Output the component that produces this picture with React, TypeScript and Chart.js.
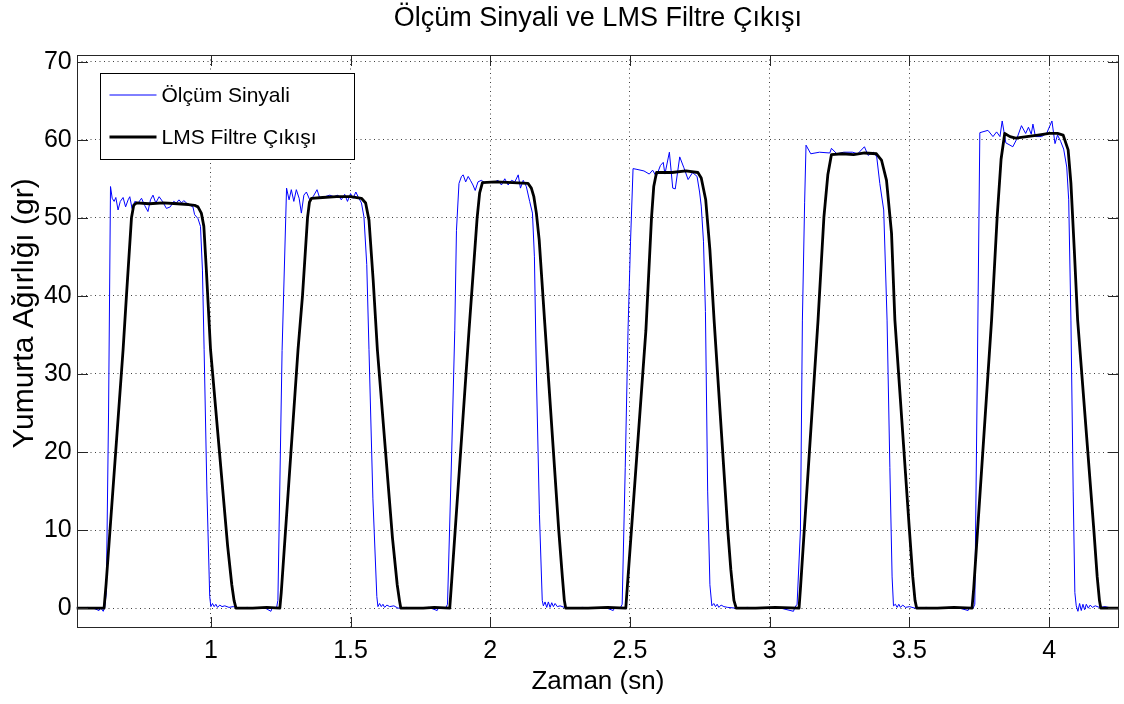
import React, { useEffect, useRef } from 'react';
import { Chart, registerables } from 'chart.js';

Chart.register(...registerables);

const titleText = 'Ölçüm Sinyali ve LMS Filtre Çıkışı';
const xTitle = 'Zaman (sn)';
const yTitle = 'Yumurta Ağırlığı (gr)';
const seriesLabels = ['Ölçüm Sinyali', 'LMS Filtre Çıkışı'];
const xTicks = [1, 1.5, 2, 2.5, 3, 3.5, 4];
const yTicks = [0, 10, 20, 30, 40, 50, 60, 70];

// Ölçüm Sinyali: [time (sn), weight (gr)]
const olcumSignal: [number, number][] = [
  [0.52, 0.1], [0.54, 0.0], [0.56, 0.1], [0.58, 0.0], [0.6, -0.3], [0.605, 0.1], [0.615, -0.4], [0.62, 0.1],
  [0.626, 2], [0.634, 25], [0.641, 54.0], [0.647, 52.5], [0.654, 52.1], [0.66, 52.6], [0.668, 51.0], [0.676, 52.1],
  [0.686, 52.6], [0.695, 51.4], [0.704, 52.3], [0.71, 52.7], [0.718, 51.2], [0.728, 52.1], [0.74, 51.9], [0.752, 52.5],
  [0.763, 51.6], [0.775, 50.8], [0.784, 52.3], [0.793, 52.9], [0.803, 51.9], [0.815, 52.7], [0.827, 52.1], [0.841, 51.2],
  [0.855, 51.4], [0.867, 52.1], [0.877, 51.9], [0.886, 52.3], [0.895, 51.9], [0.903, 52.2], [0.913, 51.9], [0.925, 51.6],
  [0.936, 51.4], [0.942, 50.4], [0.954, 49.9], [0.963, 48.9], [0.97, 43.3], [0.976, 33.1], [0.986, 15], [0.996, 1.5], [1.0, 0.2],
  [1.006, 0.6], [1.012, 0.2], [1.018, 0.5], [1.024, 0.1], [1.032, 0.4], [1.04, 0.2], [1.05, 0.3], [1.065, 0.1], [1.08, 0.2],
  [1.1, 0.0], [1.13, 0.1], [1.16, 0.0], [1.19, 0.1], [1.215, -0.4], [1.22, 0.1], [1.235, 0.0],
  [1.24, 1], [1.255, 33], [1.271, 53.8], [1.28, 52.3], [1.288, 53.6], [1.297, 52.1], [1.306, 53.6], [1.316, 52.5],
  [1.324, 50.6], [1.333, 52.9], [1.342, 53.3], [1.354, 52.3], [1.366, 52.7], [1.38, 53.6], [1.39, 52.5], [1.408, 52.7],
  [1.426, 52.9], [1.44, 52.7], [1.455, 52.9], [1.467, 52.3], [1.479, 53.0], [1.489, 52.1], [1.5, 53.1], [1.509, 52.5],
  [1.519, 53.3], [1.527, 52.7], [1.539, 51.9], [1.548, 50.1], [1.558, 44], [1.566, 33.1], [1.58, 14], [1.594, 1.5], [1.598, 0.2],
  [1.604, 0.6], [1.61, 0.2], [1.616, 0.5], [1.622, 0.1], [1.63, 0.4], [1.64, 0.2], [1.655, 0.3], [1.67, 0.0], [1.7, 0.1],
  [1.74, 0.0], [1.78, 0.1], [1.81, -0.3], [1.815, 0.1], [1.84, 0.0],
  [1.847, 0.5], [1.862, 20], [1.873, 35.6], [1.879, 48.4], [1.888, 54.4], [1.897, 55.3], [1.903, 55.5], [1.912, 54.6],
  [1.921, 55.3], [1.929, 54.8], [1.938, 54.2], [1.946, 53.5], [1.956, 54.6], [1.968, 54.8], [1.98, 54.5], [1.992, 54.6],
  [2.01, 54.5], [2.028, 54.8], [2.04, 54.2], [2.052, 55.0], [2.064, 54.2], [2.076, 54.8], [2.088, 54.6], [2.1, 55.5],
  [2.108, 53.8], [2.118, 54.8], [2.129, 54.0], [2.141, 52.1], [2.151, 50.6], [2.158, 45], [2.165, 30], [2.176, 12], [2.186, 1], [2.19, 0.3],
  [2.196, 0.8], [2.202, 0.1], [2.208, 0.8], [2.214, 0.1], [2.22, 0.7], [2.226, 0.2], [2.232, 0.6], [2.24, 0.2], [2.25, 0.3],
  [2.265, 0.1], [2.29, 0.0], [2.33, 0.1], [2.37, 0.0], [2.41, 0.1], [2.44, -0.3], [2.445, 0.1], [2.465, 0.0],
  [2.472, 0.5], [2.483, 18], [2.493, 35.6], [2.502, 47], [2.511, 56.3], [2.525, 56.2], [2.55, 56.0], [2.569, 55.6],
  [2.581, 56.1], [2.594, 55.3], [2.609, 56.7], [2.619, 57.1], [2.625, 55.6], [2.641, 58.4], [2.653, 53.8], [2.662, 53.7],
  [2.678, 57.8], [2.693, 56.4], [2.708, 54.9], [2.724, 55.8], [2.74, 55.3], [2.749, 53.3], [2.755, 51.5], [2.763, 47],
  [2.77, 38], [2.778, 15], [2.786, 3], [2.793, 0.3],
  [2.8, 0.6], [2.806, 0.2], [2.812, 0.5], [2.818, 0.1], [2.826, 0.4], [2.836, 0.2], [2.85, 0.1], [2.88, 0.0], [2.92, 0.1],
  [2.96, 0.0], [3.0, 0.1], [3.04, 0.0], [3.085, -0.4], [3.09, 0.1],
  [3.098, 0.5], [3.11, 10], [3.117, 36.9], [3.125, 52], [3.13, 59.3], [3.147, 58.2], [3.178, 58.4], [3.215, 58.3],
  [3.221, 58.9], [3.24, 58.2], [3.265, 58.4], [3.296, 58.4], [3.315, 58.2], [3.339, 59.1], [3.352, 58.0], [3.371, 58.4],
  [3.383, 57.8], [3.394, 54.4], [3.408, 51.0], [3.42, 36.9], [3.43, 18], [3.438, 4], [3.443, 0.3],
  [3.45, 0.5], [3.456, 0.1], [3.462, 0.5], [3.468, 0.1], [3.476, 0.4], [3.486, 0.1], [3.5, 0.2], [3.52, 0.0], [3.56, 0.1],
  [3.6, 0.0], [3.64, 0.1], [3.68, 0.0], [3.71, -0.3], [3.715, 0.1], [3.728, 0.0],
  [3.734, 0.5], [3.743, 30], [3.752, 60.9], [3.781, 61.2], [3.799, 60.4], [3.812, 61.0], [3.824, 60.4], [3.832, 62.4],
  [3.845, 59.6], [3.87, 59.1], [3.883, 60.0], [3.901, 61.8], [3.916, 60.8], [3.926, 61.6], [3.936, 60.7], [3.942, 62.0],
  [3.951, 60.4], [3.973, 60.4], [3.991, 60.8], [4.01, 62.4], [4.021, 59.5], [4.03, 60.6], [4.041, 59.8], [4.052, 58.8],
  [4.063, 56.5], [4.07, 52.3], [4.078, 36.9], [4.086, 15], [4.092, 2], [4.097, 0.3],
  [4.103, -0.4], [4.109, 0.6], [4.115, -0.3], [4.121, 0.5], [4.127, -0.2], [4.133, 0.5], [4.14, 0.0], [4.147, 0.4],
  [4.155, 0.1], [4.165, 0.3], [4.18, 0.1], [4.2, 0.2], [4.225, 0.0], [4.25, 0.1],
];

// LMS Filtre Çıkışı: [time (sn), weight (gr)]
const lmsOutput: [number, number][] = [
  [0.52, 0], [0.618, 0], [0.625, 3], [0.686, 33.1], [0.698, 40.0], [0.716, 50.0], [0.724, 51.6], [0.734, 51.9],
  [0.78, 51.8], [0.83, 51.9], [0.88, 51.8], [0.92, 51.7], [0.942, 51.6], [0.954, 51.4], [0.966, 50.6], [0.975, 48.9],
  [0.984, 43.3], [0.999, 33.1], [1.06, 8], [1.075, 3], [1.083, 1], [1.09, 0], [1.15, 0], [1.2, 0.1],
  [1.247, 0], [1.252, 2], [1.312, 33.1], [1.328, 40], [1.346, 50], [1.353, 52.0], [1.36, 52.5], [1.4, 52.6],
  [1.45, 52.7], [1.5, 52.7], [1.539, 52.5], [1.554, 51.9], [1.566, 49.7], [1.581, 42.0], [1.596, 33.1], [1.65, 9],
  [1.667, 3], [1.675, 1], [1.68, 0], [1.76, 0], [1.8, 0.1],
  [1.855, 0], [1.86, 2.5], [1.924, 35.6], [1.953, 50], [1.962, 53.2], [1.972, 54.5], [2.02, 54.6], [2.08, 54.5],
  [2.135, 54.4], [2.147, 53.8], [2.156, 52.7], [2.165, 50.6], [2.175, 47.2], [2.195, 36.5], [2.245, 10], [2.258, 4],
  [2.265, 1], [2.27, 0], [2.35, 0], [2.42, 0.1],
  [2.485, 0], [2.49, 2.5], [2.557, 35.6], [2.577, 50], [2.585, 54], [2.595, 55.8], [2.65, 55.8], [2.7, 56.0],
  [2.743, 55.8], [2.755, 55.1], [2.771, 52.3], [2.786, 45.9], [2.801, 36.9], [2.85, 10], [2.861, 4.9], [2.872, 1],
  [2.88, 0], [2.95, 0], [3.02, 0.1],
  [3.105, 0], [3.11, 2.5], [3.173, 36.9], [3.194, 50.1], [3.208, 55.5], [3.221, 58.1], [3.26, 58.2], [3.3, 58.1],
  [3.34, 58.3], [3.382, 58.2], [3.4, 57.4], [3.418, 54.8], [3.436, 48.0], [3.448, 36.9], [3.5, 10], [3.512, 4],
  [3.52, 1], [3.526, 0], [3.6, 0], [3.66, 0.1],
  [3.724, 0], [3.73, 2.5], [3.794, 36.9], [3.814, 50.1], [3.828, 57.5], [3.841, 60.8], [3.86, 60.4], [3.88, 60.2],
  [3.92, 60.4], [3.96, 60.6], [4.0, 60.8], [4.03, 60.8], [4.05, 60.6], [4.068, 58.7], [4.078, 54.4], [4.09, 45.9],
  [4.102, 36.9], [4.16, 10], [4.172, 4], [4.18, 1], [4.185, 0], [4.25, 0],
];

const FONT = "'Liberation Sans', Arial, Helvetica, sans-serif";

const frameTicks = {
  id: 'frameTicks',
  afterDatasetsDraw(chart: any) {
    const { ctx, chartArea: a, scales } = chart;
    const xs = scales.x;
    const ys = scales.y;
    const L = 10.5;
    const l = Math.round(a.left) + 0.5;
    const r = Math.round(a.right) - 0.5;
    const t = Math.round(a.top) + 0.5;
    const b = Math.round(a.bottom) - 0.5;
    ctx.save();
    ctx.setLineDash([]);
    ctx.strokeStyle = '#262626';
    ctx.lineWidth = 1;
    ctx.beginPath();
    xs.ticks.forEach((tk: any) => {
      const p = Math.round(xs.getPixelForValue(tk.value)) + 0.5;
      ctx.moveTo(p, b);
      ctx.lineTo(p, b - L);
      ctx.moveTo(p, t);
      ctx.lineTo(p, t + L);
    });
    ys.ticks.forEach((tk: any) => {
      const p = Math.round(ys.getPixelForValue(tk.value)) + 0.5;
      ctx.moveTo(l, p);
      ctx.lineTo(l + L, p);
      ctx.moveTo(r, p);
      ctx.lineTo(r - L, p);
    });
    ctx.stroke();
    ctx.strokeRect(l, t, r - l, b - t);
    ctx.restore();
  },
};

// Y axis title (MATLAB places it slightly above the axes centre)
const yAxisTitle = {
  id: 'yAxisTitle',
  afterDraw(chart: any) {
    const { ctx, chartArea: a } = chart;
    ctx.save();
    ctx.translate(a.left - 51.7, (a.top + a.bottom) / 2 - 28);
    ctx.rotate(-Math.PI / 2);
    ctx.font = `30px ${FONT}`;
    ctx.textAlign = 'center';
    ctx.textBaseline = 'middle';
    ctx.fillStyle = '#000000';
    ctx.fillText(yTitle, 0, 0);
    ctx.restore();
  },
};

const boxLegend = {
  id: 'boxLegend',
  afterDraw(chart: any) {
    const { ctx, chartArea: a } = chart;
    const left = Math.round(a.left + 23.3) + 0.5;
    const top = Math.round(a.top + 18.3) + 0.5;
    const w = 254;
    const h = 86;
    ctx.save();
    ctx.setLineDash([]);
    ctx.fillStyle = '#ffffff';
    ctx.fillRect(left, top, w, h);
    ctx.strokeStyle = '#000000';
    ctx.lineWidth = 1;
    ctx.strokeRect(left, top, w, h);
    ctx.font = `21px ${FONT}`;
    ctx.textBaseline = 'middle';
    ctx.textAlign = 'left';
    chart.data.datasets.forEach((ds: any, i: number) => {
      const cy = top + 21.5 + i * 42;
      ctx.strokeStyle = ds.borderColor;
      ctx.lineWidth = ds.borderWidth;
      ctx.beginPath();
      ctx.moveTo(left + 9, cy);
      ctx.lineTo(left + 56, cy);
      ctx.stroke();
      ctx.fillStyle = '#000000';
      ctx.fillText(ds.label, left + 61, cy + 1.5);
    });
    ctx.restore();
  },
};

export default function App() {
  const canvasRef = useRef<HTMLCanvasElement | null>(null);

  useEffect(() => {
    const canvas = canvasRef.current;
    if (!canvas) return;
    const gridStyle = {
      color: 'rgba(0,0,0,0.75)',
      lineWidth: 1,
      drawTicks: false,
    };
    const chart = new Chart(canvas, {
      type: 'line',
      data: {
        datasets: [
          {
            label: seriesLabels[0],
            data: olcumSignal.map(([x, y]) => ({ x, y })),
            borderColor: '#0000ff',
            borderWidth: 1,
            pointRadius: 0,
            tension: 0,
            order: 2,
          },
          {
            label: seriesLabels[1],
            data: lmsOutput.map(([x, y]) => ({ x, y })),
            borderColor: '#000000',
            borderWidth: 2.8,
            pointRadius: 0,
            tension: 0,
            borderJoinStyle: 'round',
            borderCapStyle: 'round',
            order: 1,
          },
        ],
      },
      options: {
        animation: false,
        responsive: false,
        devicePixelRatio: 1,
        layout: { padding: { left: 0, right: 5, top: 0, bottom: 0 } },
        plugins: {
          legend: { display: false },
          tooltip: { enabled: false },
          title: {
            display: true,
            text: titleText,
            fullSize: false,
            color: '#000000',
            font: { family: FONT, size: 27, weight: 'normal' },
            padding: { top: 2.8, bottom: 19.8 },
          },
        },
        scales: {
          x: {
            type: 'linear',
            min: 0.52,
            max: 4.25,
            afterFit: (s: any) => {
              s.height = 76.3;
            },
            afterBuildTicks: (s: any) => {
              s.ticks = xTicks.map((v) => ({ value: v }));
            },
            grid: gridStyle,
            border: { display: false, dash: [1, 3.5] },
            ticks: {
              color: '#000000',
              font: { family: FONT, size: 25 },
              padding: 8.5,
              maxRotation: 0,
              autoSkip: false,
              callback: (v: any) => String(v),
            },
            title: {
              display: true,
              text: xTitle,
              color: '#000000',
              font: { family: FONT, size: 26 },
              padding: { top: 0, bottom: 6.7 },
            },
          },
          y: {
            type: 'linear',
            min: -2.5,
            max: 70.85,
            afterFit: (s: any) => {
              s.width = 76.7;
            },
            afterBuildTicks: (s: any) => {
              s.ticks = yTicks.map((v) => ({ value: v }));
            },
            grid: gridStyle,
            border: { display: false, dash: [1, 3.5] },
            ticks: {
              color: '#000000',
              font: { family: FONT, size: 25 },
              padding: 5,
              autoSkip: false,
              callback: (v: any) => String(v),
            },
            title: { display: false, text: yTitle },
          },
        },
      } as any,
      plugins: [frameTicks, yAxisTitle, boxLegend],
    });
    return () => chart.destroy();
  }, []);

  return (
    <div style={{ position: 'fixed', left: 0, top: 0, width: 1124, height: 704, background: '#ffffff' }}>
      <canvas ref={canvasRef} width={1124} height={704} style={{ display: 'block' }} />
    </div>
  );
}
